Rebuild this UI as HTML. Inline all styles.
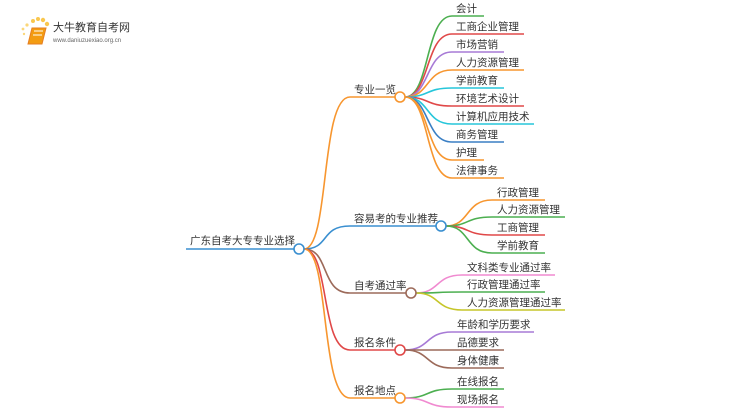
<!DOCTYPE html>
<html><head><meta charset="utf-8"><style>
html,body{margin:0;padding:0;background:#fff;width:750px;height:410px;overflow:hidden}
svg text{font-family:"Liberation Sans","Noto Sans CJK SC",sans-serif;font-size:10.5px;fill:#333}
</style></head><body>
<svg width="750" height="410" viewBox="0 0 750 410" xmlns="http://www.w3.org/2000/svg" fill="none" stroke-width="1.6">
<g>
<circle cx="33" cy="21" r="2" fill="#f9c74f" stroke="none"/>
<circle cx="38" cy="19" r="2" fill="#f9c74f" stroke="none"/>
<circle cx="43" cy="20" r="2.2" fill="#f9c74f" stroke="none"/>
<circle cx="47" cy="24" r="2.2" fill="#f9c74f" stroke="none"/>
<circle cx="27" cy="25" r="1.6" fill="#fbd77a" stroke="none"/>
<circle cx="23" cy="29" r="1.4" fill="#fbd77a" stroke="none"/>
<circle cx="24" cy="34" r="1.2" fill="#fbd77a" stroke="none"/>
<path d="M32 28 L46 28 L42 44 L28 44 Z" fill="#f39c12" stroke="#e67e22" stroke-width="1"/>
<path d="M34 31 L43 31 M33 35 L42 35" stroke="#fff" stroke-width="1"/>
<text x="53" y="31" style="font-size:11px;fill:#333">大牛教育自考网</text>
<text x="53" y="42" style="font-size:6px;fill:#666">www.daniuzuexiao.org.cn</text>
</g>

<text x="190" y="244">广东自考大专专业选择</text>
<path d="M186 249 H294" stroke="#3a8fd0"/>

<path d="M304 249 C330 249 320 97 350 97 H395" stroke="#f7962f"/>
<path d="M304 249 C330 249 320 226 350 226 H436" stroke="#3a8fd0"/>
<path d="M304 249 C330 249 320 293 350 293 H406" stroke="#9c6a5a"/>
<path d="M304 249 C330 249 320 350 350 350 H395" stroke="#e04848"/>
<path d="M304 249 C330 249 320 398 350 398 H395" stroke="#f7962f"/>
<circle cx="299" cy="249" r="5" fill="#fff" stroke="#3a8fd0"/>

<text x="354" y="93">专业一览</text>
<text x="354" y="222">容易考的专业推荐</text>
<text x="354" y="289">自考通过率</text>
<text x="354" y="346">报名条件</text>
<text x="354" y="394">报名地点</text>

<path d="M405 97 C430 97 425 16 452 16 H484" stroke="#4caf50"/>
<path d="M405 97 C430 97 425 34 452 34 H524" stroke="#e04848"/>
<path d="M405 97 C430 97 425 52 452 52 H504" stroke="#a77ad6"/>
<path d="M405 97 C430 97 425 70 452 70 H524" stroke="#f7962f"/>
<path d="M405 97 C430 97 425 88 452 88 H504" stroke="#26c6da"/>
<path d="M405 97 C430 97 425 106 452 106 H524" stroke="#e04848"/>
<path d="M405 97 C430 97 425 124 452 124 H534" stroke="#26c6da"/>
<path d="M405 97 C430 97 425 142 452 142 H504" stroke="#3a7fc4"/>
<path d="M405 97 C430 97 425 160 452 160 H484" stroke="#f7962f"/>
<path d="M405 97 C430 97 425 178 452 178 H504" stroke="#f7962f"/>
<circle cx="400" cy="97" r="5" fill="#fff" stroke="#f7962f"/>
<text x="456" y="12">会计</text>
<text x="456" y="30">工商企业管理</text>
<text x="456" y="48">市场营销</text>
<text x="456" y="66">人力资源管理</text>
<text x="456" y="84">学前教育</text>
<text x="456" y="102">环境艺术设计</text>
<text x="456" y="120">计算机应用技术</text>
<text x="456" y="138">商务管理</text>
<text x="456" y="156">护理</text>
<text x="456" y="174">法律事务</text>

<path d="M446 226 C470 226 465 200 492 200 H545" stroke="#f7962f"/>
<path d="M446 226 C470 226 465 217 492 217 H565" stroke="#4caf50"/>
<path d="M446 226 C470 226 465 235 492 235 H545" stroke="#e04848"/>
<path d="M446 226 C470 226 465 253 492 253 H545" stroke="#4caf50"/>
<circle cx="441" cy="226" r="5" fill="#fff" stroke="#3a8fd0"/>
<text x="497" y="196">行政管理</text>
<text x="497" y="213">人力资源管理</text>
<text x="497" y="231">工商管理</text>
<text x="497" y="249">学前教育</text>

<path d="M416 293 C440 293 435 275 462 275 H555" stroke="#f08ad0"/>
<path d="M416 293 C440 293 435 292 462 292 H545" stroke="#4caf50"/>
<path d="M416 293 C440 293 435 310 462 310 H565" stroke="#c6c62a"/>
<circle cx="411" cy="293" r="5" fill="#fff" stroke="#9c6a5a"/>
<text x="467" y="271">文科类专业通过率</text>
<text x="467" y="288">行政管理通过率</text>
<text x="467" y="306">人力资源管理通过率</text>

<path d="M405 350 C430 350 425 332 452 332 H534" stroke="#a77ad6"/>
<path d="M405 350 C430 350 425 350 452 350 H504" stroke="#9c6a5a"/>
<path d="M405 350 C430 350 425 368 452 368 H504" stroke="#9c6a5a"/>
<circle cx="400" cy="350" r="5" fill="#fff" stroke="#e04848"/>
<text x="457" y="328">年龄和学历要求</text>
<text x="457" y="346">品德要求</text>
<text x="457" y="364">身体健康</text>

<path d="M405 398 C430 398 425 389 452 389 H504" stroke="#4caf50"/>
<path d="M405 398 C430 398 425 407 452 407 H504" stroke="#f08ad0"/>
<circle cx="400" cy="398" r="5" fill="#fff" stroke="#f7962f"/>
<text x="457" y="385">在线报名</text>
<text x="457" y="403">现场报名</text>
</svg>
</body></html>
